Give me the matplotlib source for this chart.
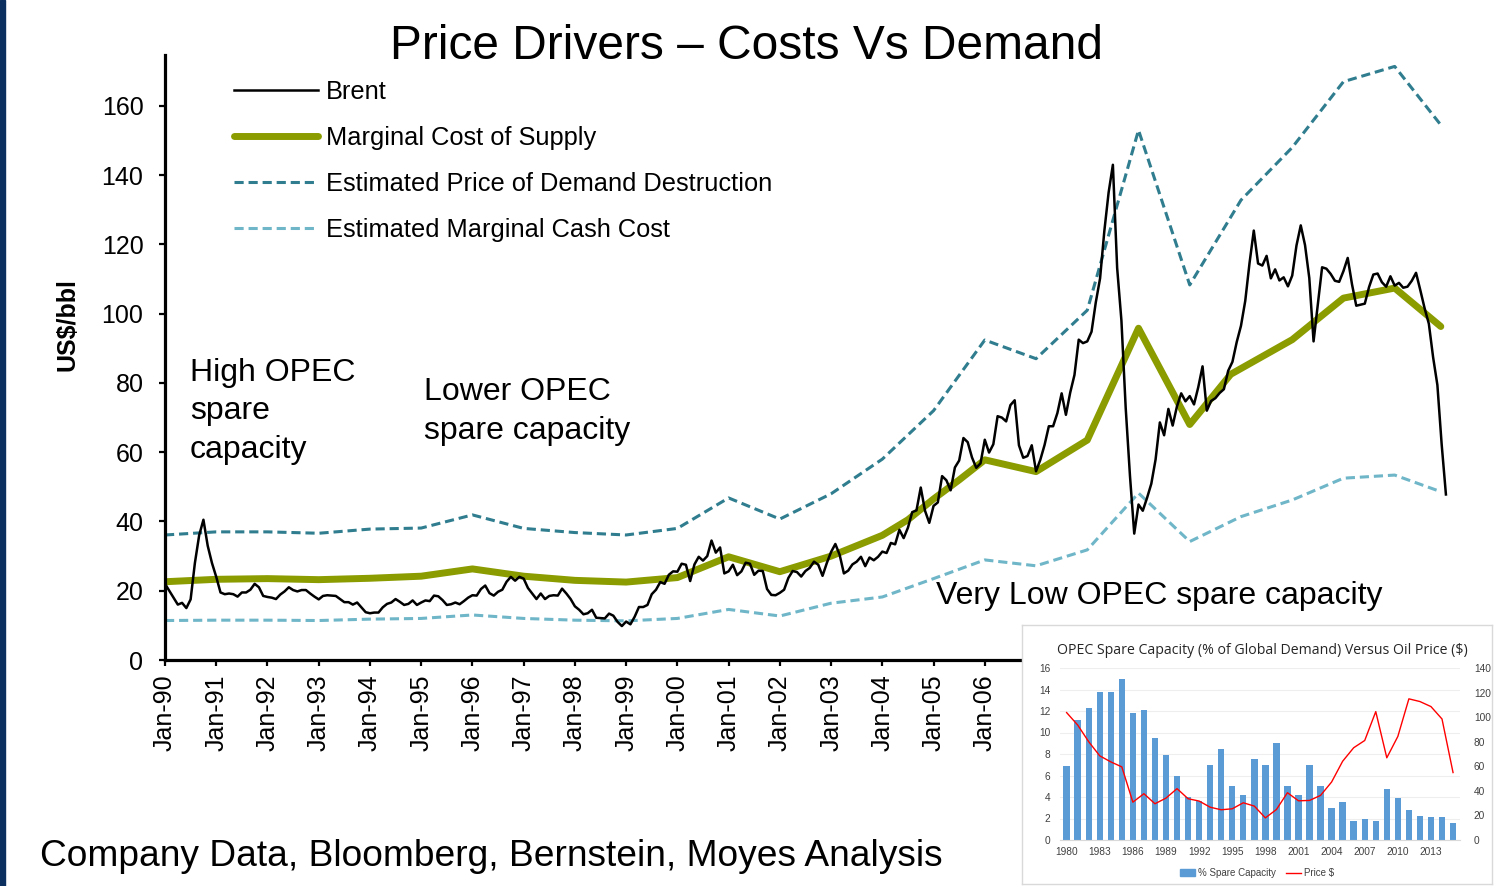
import matplotlib.pyplot as plt
from matplotlib.patches import Rectangle, Patch
from matplotlib.lines import Line2D
import numpy as np

plt.rcParams['font.family'] = ['Liberation Sans', 'DejaVu Sans']

W, H = 1509, 886

# Brent, monthly from Jan-1990 to Jan-2015 (US$/bbl)
brent_start = 1990
brent = [
    22.0, 20.0, 18.0, 16.0, 16.5, 15.0, 17.5, 28.0, 36.0, 40.5, 33.0, 28.0,  # 1990
    24.0, 19.5, 19.0, 19.2, 19.0, 18.3, 19.5, 19.5, 20.3, 22.0, 21.0, 18.5,  # 1991
    18.2, 18.0, 17.6, 18.9, 19.8, 21.0, 20.2, 19.8, 20.2, 20.2, 19.2, 18.3,  # 1992
    17.5, 18.5, 18.7, 18.6, 18.5, 17.6, 16.7, 16.7, 16.0, 16.6, 15.2, 13.8,  # 1993
    13.5, 13.7, 13.7, 15.2, 16.2, 16.6, 17.6, 16.8, 15.9, 16.2, 17.2, 15.9,  # 1994
    16.6, 17.2, 17.0, 18.6, 18.4, 17.3, 15.9, 16.1, 16.6, 16.1, 17.0, 18.0,  # 1995
    18.7, 18.6, 20.5, 21.5, 19.3, 18.6, 19.7, 20.3, 22.6, 24.0, 22.9, 24.0,  # 1996
    23.5, 20.8, 19.2, 17.6, 19.2, 17.6, 18.5, 18.7, 18.6, 20.6, 19.2, 17.6,  # 1997
    15.5, 14.5, 13.2, 13.5, 14.5, 12.2, 12.1, 12.0, 13.4, 12.8, 11.0, 9.8,   # 1998
    11.1, 10.3, 12.5, 15.3, 15.3, 15.9, 19.0, 20.3, 22.5, 22.0, 24.6, 25.6,  # 1999
    25.5, 27.8, 27.5, 22.8, 27.6, 29.8, 28.7, 30.0, 34.5, 31.0, 32.5, 25.0,  # 2000
    25.6, 27.5, 24.5, 25.6, 28.1, 27.8, 24.6, 25.8, 25.7, 20.5, 18.8, 18.7,  # 2001
    19.4, 20.3, 23.7, 25.7, 25.4, 24.1, 25.7, 26.6, 28.4, 27.5, 24.3, 28.0,  # 2002
    31.2, 33.5, 30.4, 25.0, 25.8, 27.6, 28.4, 29.8, 27.1, 29.6, 28.8, 29.8,  # 2003
    31.3, 30.9, 33.8, 33.4, 37.6, 35.2, 38.2, 42.7, 43.2, 49.8, 43.1, 39.6,  # 2004
    44.5, 45.5, 53.1, 51.9, 49.0, 55.6, 57.6, 64.1, 62.9, 58.5, 55.5, 56.8,  # 2005
    63.6, 59.9, 62.3, 70.4, 70.0, 68.9, 73.6, 75.0, 62.0, 58.4, 58.9, 62.0,  # 2006
    54.5, 57.8, 62.1, 67.5, 67.5, 71.3, 77.0, 70.8, 77.2, 82.3, 92.5, 91.5,  # 2007
    92.0, 94.8, 103.3, 110.2, 123.9, 135.0, 143.0, 113.2, 98.0, 72.8, 53.2, 36.5,  # 2008
    44.9, 43.1, 46.8, 50.9, 57.9, 68.6, 64.9, 72.5, 67.7, 73.2, 77.0, 74.7,  # 2009
    76.2, 73.8, 78.8, 84.8, 72.0, 74.8, 75.6, 77.1, 78.2, 83.5, 86.1, 91.8,  # 2010
    96.5, 103.7, 114.6, 124.0, 114.5, 113.9, 116.7, 110.2, 112.8, 109.6, 110.5, 107.9,  # 2011
    111.0, 119.7, 125.5, 119.8, 110.3, 92.0, 102.6, 113.4, 113.0, 111.5, 109.5, 109.2,  # 2012
    112.3, 116.1, 108.5, 102.3, 102.6, 102.9, 107.7, 111.3, 111.6, 109.1, 107.8, 110.8,  # 2013
    108.1, 108.9, 107.5, 107.8, 109.5, 111.8, 106.8, 101.6, 97.1, 87.4, 79.4, 62.3,  # 2014
    47.8,  # Jan-2015
]

# Marginal cost of supply
mcs_years = [1990, 1991, 1992, 1993, 1994, 1995, 1996, 1997, 1998, 1999, 2000, 2001,
             2002, 2003, 2004, 2004.5, 2005, 2005.5, 2006, 2007, 2008, 2009, 2010,
             2010.8, 2012, 2013, 2014, 2014.9]
mcs = [22.6, 23.3, 23.5, 23.2, 23.6, 24.2, 26.3, 24.2, 23.0, 22.5, 23.8, 29.8,
       25.5, 30.0, 36.0, 40.5, 46.5, 52.0, 57.8, 54.4, 63.5, 95.8, 68.0,
       82.5, 92.5, 104.5, 107.4, 96.3]

# Estimated price of demand destruction / estimated marginal cash cost
est_years = [1990, 1991, 1992, 1993, 1994, 1995, 1996, 1997, 1998, 1999, 2000, 2001,
             2002, 2003, 2004, 2005, 2006, 2007, 2008, 2009, 2010, 2011, 2012, 2013,
             2014, 2014.9]
demand_destr = [36.1, 37.0, 37.0, 36.6, 37.8, 38.1, 41.9, 38.0, 36.8, 36.1, 38.0, 46.8,
                40.7, 48.0, 58.0, 72.0, 92.4, 87.0, 101.0, 153.0, 108.3, 132.8, 148.0,
                167.0, 171.4, 154.5]
cash_cost = [11.4, 11.5, 11.5, 11.4, 11.8, 12.0, 13.0, 12.0, 11.5, 11.3, 12.0, 14.6,
             12.7, 16.4, 18.2, 23.5, 28.9, 27.2, 31.8, 48.2, 34.2, 41.4, 46.2,
             52.5, 53.4, 48.6]

tick_years = list(range(1990, 2016))
# labels after Jan-06 sit under the inset chart in the original
tick_labels = ['Jan-%02d' % (y % 100) if y <= 2006 else '' for y in tick_years]

# inset: OPEC spare capacity vs oil price
opec_years = list(range(1980, 2016))
spare_cap = [6.9, 11.2, 12.3, 13.8, 13.8, 15.0, 11.8, 12.1, 9.5, 7.9, 6.0, 4.0,
             3.6, 7.0, 8.5, 5.0, 4.2, 7.5, 7.0, 9.0, 5.0, 4.2, 7.0, 5.0,
             3.0, 3.5, 1.8, 1.95, 1.75, 4.7, 3.95, 2.8, 2.2, 2.15, 2.15, 1.6]
oil_price = [103.7, 93.6, 80.0, 68.5, 63.6, 59.5, 30.8, 37.7, 29.5, 34.1, 41.8, 33.6,
             31.7, 26.7, 24.6, 25.4, 30.3, 27.6, 18.0, 24.8, 38.5, 31.9, 32.2, 36.3,
             47.2, 64.1, 75.1, 81.0, 104.5, 66.9, 84.3, 114.9, 112.7, 108.6, 98.5, 54.9]

C_MCS = '#8a9c00'
C_DD = '#2f7d8e'
C_CC = '#6fb6c8'


def fx(px):
    return px / W


def fy(py):
    return 1 - py / H


fig = plt.figure(figsize=(W / 100, H / 100), dpi=100)
fig.patches.append(Rectangle((0, 0), fx(5), 1, transform=fig.transFigure,
                             color='#0b2f5e', zorder=0))

ax = fig.add_axes([fx(165), fy(660), fx(1449) - fx(165), fy(55) - fy(660)])
bx = brent_start + np.arange(len(brent)) / 12.0
ax.plot(est_years, cash_cost, color=C_CC, lw=2.2, dashes=(3, 1.6),
        label='Estimated Marginal Cash Cost')
ax.plot(est_years, demand_destr, color=C_DD, lw=2.2, dashes=(3, 1.6),
        label='Estimated Price of Demand Destruction')
ax.plot(mcs_years, mcs, color=C_MCS, lw=5, solid_capstyle='round',
        solid_joinstyle='round', label='Marginal Cost of Supply')
ax.plot(bx, brent, color='black', lw=1.8, label='Brent')

ax.set_xlim(1990, 2015.06)
ax.set_ylim(0, 174.7)
ax.set_yticks(range(0, 161, 20))
ax.set_xticks(tick_years)
ax.set_xticklabels(tick_labels, rotation=90)
for s in ['top', 'right']:
    ax.spines[s].set_visible(False)
for s in ['left', 'bottom']:
    ax.spines[s].set_linewidth(2.3)
ax.tick_params(axis='both', direction='out', length=4.5, width=1.6, labelsize=18)
ax.tick_params(axis='y', pad=11)
ax.tick_params(axis='x', pad=6)

h, l = ax.get_legend_handles_labels()
order = [3, 2, 1, 0]
ax.legend([h[i] for i in order], [l[i] for i in order], loc='upper left',
          bbox_to_anchor=(fx(234), fy(80)), bbox_transform=fig.transFigure,
          frameon=False, fontsize=18.3, handlelength=3.3, handletextpad=0.3,
          labelspacing=0.86, borderpad=0, borderaxespad=0)

fig.text(fx(746), fy(59), 'Price Drivers \u2013 Costs Vs Demand', fontsize=34.5,
         ha='center', va='baseline')
fig.text(fx(68), fy(325), 'US$/bbl', fontsize=18, fontweight='bold',
         rotation=90, ha='center', va='center')
fig.text(fx(190), fy(358), 'High OPEC\nspare\ncapacity', fontsize=23,
         ha='left', va='top', linespacing=1.36)
fig.text(fx(424), fy(377), 'Lower OPEC\nspare capacity', fontsize=23,
         ha='left', va='top', linespacing=1.38)
fig.text(fx(936), fy(581), 'Very Low OPEC spare capacity', fontsize=23,
         ha='left', va='top')
fig.text(fx(40), fy(866), 'Company Data, Bloomberg, Bernstein, Moyes Analysis',
         fontsize=26.75, ha='left', va='baseline')

# inset box
box = fig.add_axes([fx(1022), fy(884), fx(1492) - fx(1022), fy(625) - fy(884)])
box.set_xticks([])
box.set_yticks([])
for s in box.spines.values():
    s.set_color('#d9d9d9')
    s.set_linewidth(1)

ins = fig.add_axes([fx(1060), fy(840), fx(1460) - fx(1060), fy(668) - fy(840)])
ins.bar(opec_years, spare_cap, width=0.58, color='#5b9bd5', zorder=2,
        label='% Spare Capacity')
ins.set_xlim(1979.4, 2015.63)
ins.set_ylim(0, 16)
ins.set_yticks(range(0, 17, 2))
ins.set_xticks(range(1980, 2014, 3))
ins.grid(axis='y', color='#eeeeee', lw=0.8, zorder=0)
for s in ['top', 'right', 'left']:
    ins.spines[s].set_visible(False)
ins.spines['bottom'].set_color('#d9d9d9')
ins.tick_params(axis='both', length=0, labelsize=7.3, colors='#404040', pad=7)
ins.tick_params(axis='x', pad=5)

ins2 = ins.twinx()
ins2.plot(opec_years, oil_price, color='#ff0000', lw=1.0, label='Price $')
ins2.set_ylim(0, 140)
ins2.set_yticks(range(0, 141, 20))
for s in ins2.spines.values():
    s.set_visible(False)
ins2.tick_params(axis='y', length=0, labelsize=7.3, colors='#404040', pad=10)

fig.text(fx(1262), fy(650), 'OPEC Spare Capacity (% of Global Demand) Versus Oil Price ($)',
         fontsize=10.2, family=['Open Sans', 'DejaVu Sans'], color='#262626',
         ha='center', va='center')
ins.legend(handles=[Patch(color='#5b9bd5', label='% Spare Capacity'),
                    Line2D([], [], color='#ff0000', lw=1.0, label='Price $')],
           loc='center', bbox_to_anchor=(fx(1257), fy(873)),
           bbox_transform=fig.transFigure, ncol=2, frameon=False,
           fontsize=7, handlelength=1.6, handleheight=0.6, handletextpad=0.3,
           columnspacing=1.0, labelcolor='#404040')

fig.savefig('out.png', dpi=100)
